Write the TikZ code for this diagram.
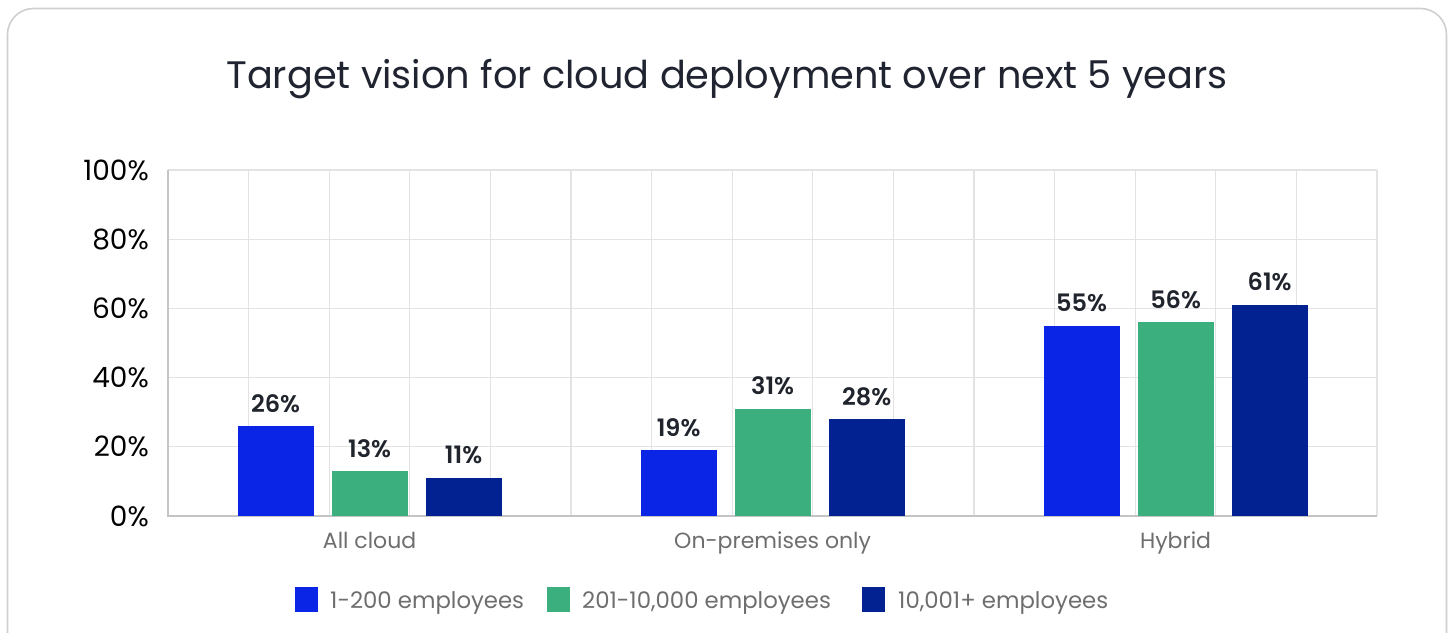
\documentclass[tikz,border=0pt]{standalone}
\usepackage{fontspec}
\setmainfont{Poppins}
\newfontfamily\valfont{Poppins SemiBold}
\definecolor{cblue}{HTML}{0A25E6}
\definecolor{cgreen}{HTML}{3BAF7E}
\definecolor{cnavy}{HTML}{022291}
\definecolor{framec}{HTML}{CFCFCF}
\definecolor{gridc}{HTML}{E3E3E3}
\definecolor{axisc}{HTML}{C4C4C4}
\definecolor{titlec}{HTML}{1F2430}
\definecolor{labc}{HTML}{6E6E6E}
\definecolor{valc}{HTML}{20242C}
\tikzset{
  titlestyle/.style={anchor=base, inner sep=0pt, text=titlec, font=\fontsize{38.3}{44}\selectfont},
  ticklab/.style={anchor=base east, inner sep=0pt, text=black, font=\fontsize{28}{32}\selectfont},
  vallab/.style={anchor=base, inner sep=0pt, text=valc, font=\fontsize{24}{28}\valfont},
  catlab/.style={anchor=base, inner sep=0pt, text=labc, font=\fontsize{22}{26}\selectfont},
  leglab/.style={anchor=base west, inner sep=0pt, text=labc, font=\fontsize{22.8}{26}\selectfont},
  legbox/.style={inner sep=0pt, minimum width=23pt, minimum height=25pt},
  gridline/.style={draw=gridc, line width=1.2pt},
}
\begin{document}
\begin{tikzpicture}[x=1pt,y=-1pt]
\useasboundingbox (0,0) rectangle (1453,632);
\begin{scope}
\clip (0,0) rectangle (1453,632);
\draw[framec, line width=1.6pt, rounded corners=26pt] (7.5,8.5) rectangle (1446.5,690);
\end{scope}
\node[titlestyle] (title) at (727,88) {Target vision for cloud deployment over next 5 years};
% grid
\foreach \k in {1,...,15} \draw[gridline] ({168+80.6*\k},170) -- ({168+80.6*\k},516);
\foreach \v in {20,40,60,80,100} \draw[gridline] (168,{516-3.46*\v}) -- (1377,{516-3.46*\v});
\draw[axisc, line width=1.4pt] (168,170) -- (168,516) -- (1377,516);
% y tick labels
\foreach \v in {0,20,40,60,80,100}
  \node[ticklab] (tick\v) at (149,{516-3.46*\v+10}) {\v\%};
% bars
\foreach \g/\a/\b/\c in {0/26/13/11,1/19/31/28,2/55/56/61}{
  \pgfmathsetmacro{\cx}{369.6+403*\g}
  \fill[cblue] ({\cx-94-38},516) rectangle ({\cx-94+38},{516-3.46*\a});
  \fill[cgreen] ({\cx-38},516) rectangle ({\cx+38},{516-3.46*\b});
  \fill[cnavy] ({\cx+94-38},516) rectangle ({\cx+94+38},{516-3.46*\c});
  \node[vallab] (val\g a) at ({\cx-94},{516-3.46*\a-14}) {\a\%};
  \node[vallab] (val\g b) at ({\cx},{516-3.46*\b-14}) {\b\%};
  \node[vallab] (val\g c) at ({\cx+94},{516-3.46*\c-14}) {\c\%};
}
% category labels
\node[catlab] (cat0) at (369.6,548) {All cloud};
\node[catlab] (cat1) at (772.6,548) {On-premises only};
\node[catlab] (cat2) at (1175.6,548) {Hybrid};
% legend
\node[legbox, fill=cblue] (leg1) at (306.5,599.5) {};
\node[leglab] (legt1) at (330,608) {1-200 employees};
\node[legbox, fill=cgreen] (leg2) at (558.5,599.5) {};
\node[leglab] (legt2) at (582,608) {201-10,000 employees};
\node[legbox, fill=cnavy] (leg3) at (873.5,599.5) {};
\node[leglab] (legt3) at (898,608) {10,001+ employees};
\end{tikzpicture}
\end{document}
